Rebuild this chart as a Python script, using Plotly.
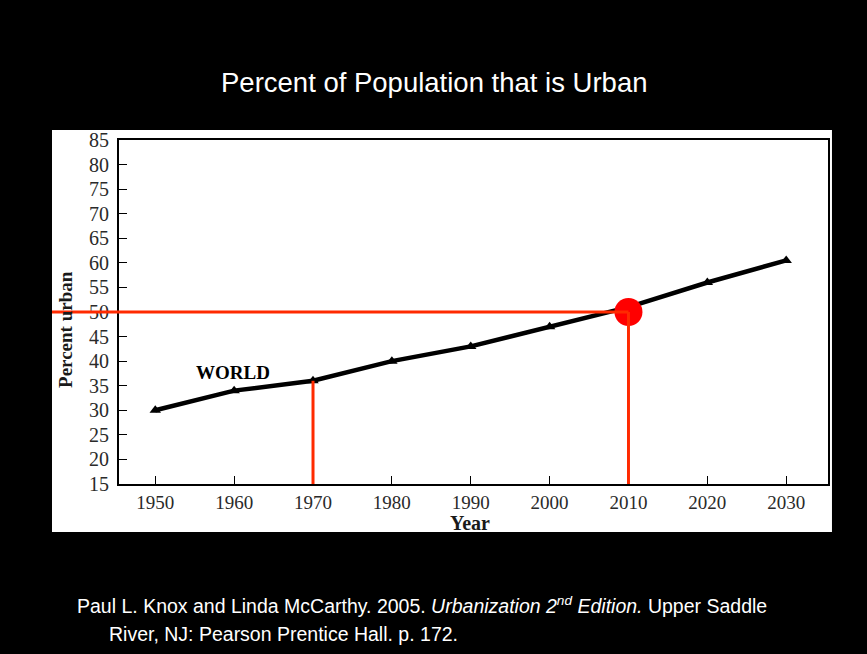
import plotly.graph_objects as go

# ---- data ----
years = [1950, 1960, 1970, 1980, 1990, 2000, 2010, 2020, 2030]
pct_urban = [30, 34, 36, 40, 43, 47, 51, 56, 60.5]
highlight_years = [1970, 2010]
highlight_values = [36, 50]
x_ticks = [1950, 1960, 1970, 1980, 1990, 2000, 2010, 2020, 2030]
y_ticks = [15, 20, 25, 30, 35, 40, 45, 50, 55, 60, 65, 70, 75, 80, 85]

X_RANGE = [1945.4, 2035.3]
Y_RANGE = [15, 85]

RED_LINE = "#ff2a00"
SERIF = "Liberation Serif, Times New Roman, serif"
SANS = "Liberation Sans, Arial, sans-serif"

fig = go.Figure()

# red guide lines
for hx, hy in zip(highlight_years, highlight_values):
    fig.add_shape(type="line", xref="x", yref="y", x0=hx, x1=hx, y0=Y_RANGE[0] - 0.6, y1=hy,
                  line=dict(color=RED_LINE, width=3), layer="above")
# horizontal line at 50 from panel edge to 2010
hx_frac = (highlight_years[1] - X_RANGE[0]) / (X_RANGE[1] - X_RANGE[0])
fig.add_shape(type="line", xref="paper", yref="y", x0=-0.0945, x1=hx_frac,
              y0=highlight_values[1], y1=highlight_values[1],
              line=dict(color=RED_LINE, width=3), layer="above")

fig.add_trace(go.Scatter(
    x=years, y=pct_urban, mode="lines+markers",
    line=dict(color="black", width=4.5),
    marker=dict(symbol="triangle-up", size=10, color="black"),
    hoverinfo="skip", showlegend=False,
))

fig.add_trace(go.Scatter(
    x=[highlight_years[1]], y=[highlight_values[1]], mode="markers",
    marker=dict(color="#ff0000", size=28, line=dict(width=0)),
    hoverinfo="skip", showlegend=False, cliponaxis=False,
))

# white panel behind the chart
fig.add_shape(type="rect", xref="paper", yref="paper", x0=-0.0945, x1=1.0056, y0=-0.1395, y1=1.029,
              fillcolor="white", line=dict(width=0), layer="below")

fig.update_layout(
    width=867, height=654,
    margin=dict(l=119, r=39, t=140, b=170),
    paper_bgcolor="black", plot_bgcolor="white",
    showlegend=False,
    xaxis=dict(range=X_RANGE, tickvals=x_ticks, ticks="inside", ticklen=8, tickcolor="black",
               showline=True, linecolor="black", linewidth=2, mirror=True,
               showgrid=False, zeroline=False,
               tickfont=dict(family=SERIF, size=19, color="#2a2a2a")),
    yaxis=dict(range=Y_RANGE, tickvals=y_ticks, ticks="inside", ticklen=8, tickcolor="black",
               showline=True, linecolor="black", linewidth=2, mirror=True,
               showgrid=False, zeroline=False, ticklabelstandoff=4,
               tickfont=dict(family=SERIF, size=20, color="#2a2a2a")),
    annotations=[
        dict(text="Percent of Population that is Urban", xref="paper", yref="paper",
             x=(434 - 119) / 709, y=1.0, yshift=58, xanchor="center", yanchor="middle", showarrow=False,
             font=dict(family=SANS, size=27.5, color="white")),
        dict(text="<b>Percent urban</b>", xref="paper", yref="paper", x=-0.0765, y=0.45,
             textangle=-90, xanchor="center", yanchor="middle", showarrow=False,
             font=dict(family=SERIF, size=19, color="#1a1a1a")),
        dict(text="<b>Year</b>", xref="paper", yref="paper", x=0.495, y=(484 - 523) / 344,
             xanchor="center", yanchor="middle", showarrow=False,
             font=dict(family=SERIF, size=20, color="#1a1a1a")),
        dict(text="<b>WORLD</b>", xref="x", yref="y", x=1959.9, y=37.6,
             xanchor="center", yanchor="middle", showarrow=False,
             font=dict(family=SERIF, size=19, color="black")),
        dict(text="Paul L. Knox and Linda McCarthy. 2005. <i>Urbanization 2<sup>nd</sup> Edition.</i> Upper Saddle",
             xref="paper", yref="paper", x=(75 - 119) / 709, y=(484 - 605) / 344,
             xanchor="left", yanchor="middle", showarrow=False,
             font=dict(family=SANS, size=19.5, color="white")),
        dict(text="River, NJ: Pearson Prentice Hall. p. 172.",
             xref="paper", yref="paper", x=(107 - 119) / 709, y=(484 - 634) / 344,
             xanchor="left", yanchor="middle", showarrow=False,
             font=dict(family=SANS, size=19.5, color="white")),
    ],
)

fig.write_html("out.html")
